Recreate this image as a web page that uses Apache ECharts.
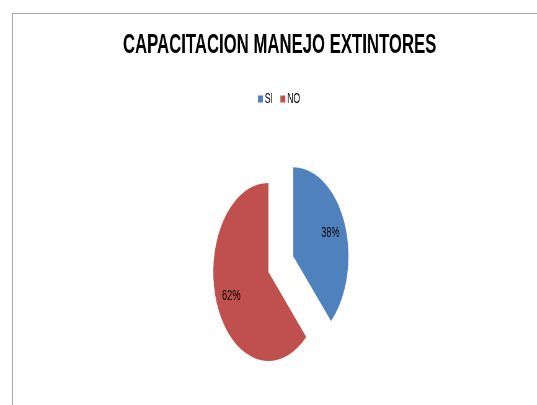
<!DOCTYPE html>
<html>
<head>
<meta charset="utf-8">
<script src="https://cdn.jsdelivr.net/npm/echarts@6/dist/echarts.min.js"></script>
<style>
  html, body { margin: 0; padding: 0; background: #fff; overflow: hidden; }
  #wrap { position: relative; width: 537px; height: 405px; overflow: hidden; }
  #frame { position: absolute; left: 12px; top: 13px; width: 600px; height: 500px;
           border: 1px solid #a8a8a8; box-sizing: border-box; }
  /* the source picture is squeezed horizontally, so the chart is drawn wide and squeezed */
  #chart { position: absolute; left: 0; top: 0; width: 866px; height: 405px;
           transform: scaleX(0.62); transform-origin: 0 0; }
</style>
</head>
<body>
<div id="wrap">
  <div id="frame"></div>
  <div id="chart"></div>
</div>
<script>
const titleText = 'CAPACITACION MANEJO EXTINTORES'
const categories = ['SI', 'NO']
const values = [38, 62]
const colors = ['#4F81BD', '#C0504D']

const pieCenter = ['50%', 272]
const pieRadius = 89
const explode = 43

const chart = echarts.init(document.getElementById('chart'))

const pieData = categories.map(function (name, i) {
  return {
    name: name,
    value: values[i],
    selected: i === 0,
    itemStyle: { color: colors[i] }
  }
})

chart.setOption({
  animation: false,
  title: {
    text: titleText,
    left: 451,
    top: 32,
    padding: 0,
    textAlign: 'center',
    textStyle: {
      fontFamily: 'Liberation Sans',
      fontWeight: 'bold',
      fontSize: 27,
      color: '#000'
    }
  },
  legend: {
    data: categories,
    left: 416,
    top: 92,
    padding: 0,
    itemWidth: 8,
    itemHeight: 7,
    itemGap: 12,
    icon: 'rect',
    textStyle: {
      fontFamily: 'Liberation Sans',
      fontSize: 14,
      color: '#000',
      padding: [0, 0, 0, -2]
    }
  },
  series: [{
    type: 'pie',
    center: pieCenter,
    radius: pieRadius,
    startAngle: 90,
    clockwise: true,
    selectedMode: 'single',
    selectedOffset: explode,
    label: { show: false },
    labelLine: { show: false },
    emphasis: { disabled: true },
    data: pieData
  }, {
    // label-only ring so the percentages sit at about two thirds of the radius
    type: 'pie',
    silent: true,
    center: pieCenter,
    radius: [34, pieRadius],
    startAngle: 90,
    clockwise: true,
    selectedMode: 'single',
    selectedOffset: explode,
    itemStyle: { color: 'rgba(0,0,0,0)' },
    label: {
      show: true,
      position: 'inside',
      formatter: '{d}%',
      fontFamily: 'Liberation Sans',
      fontSize: 15,
      color: '#000'
    },
    labelLine: { show: false },
    emphasis: { disabled: true },
    data: pieData.map(function (d) {
      return { name: d.name, value: d.value, selected: d.selected }
    })
  }]
})
</script>
</body>
</html>
